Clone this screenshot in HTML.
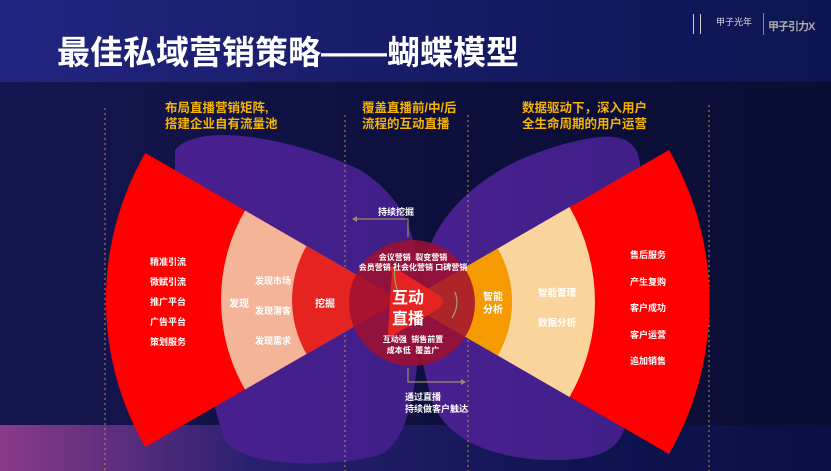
<!DOCTYPE html>
<html><head><meta charset="utf-8"><style>
html,body{margin:0;padding:0}
body{width:831px;height:471px;overflow:hidden;position:relative;background:linear-gradient(90deg,#151650,#0c0f3a 60%,#0a0d33);font-family:"Liberation Sans","Noto Sans CJK SC",sans-serif}
.t{position:absolute;color:#fff;white-space:nowrap;font-weight:bold}
.o{position:absolute;color:#f7b500;font-weight:bold;font-size:12.5px;line-height:16px;white-space:nowrap}
</style></head><body>
<div style="position:absolute;left:0;top:0;width:831px;height:82px;background:linear-gradient(90deg,#222580,#141a62 60%,#0d1550)"></div>
<div style="position:absolute;left:0;top:425px;width:831px;height:46px;background:linear-gradient(90deg,#8a3a8a,#2a2070 30%,#0e1450 70%,#0a1045)"></div>
<svg width="831" height="471" style="position:absolute;left:0;top:0">
<defs><linearGradient id="pb" x1="0" x2="1"><stop offset="0" stop-color="#4a2090"/><stop offset="1" stop-color="#3f1f88"/></linearGradient></defs>
<path d="M175,150 C200,120 300,140 360,170 C400,195 420,230 420,300 C420,380 410,440 380,455 C320,470 240,465 225,440 C210,400 190,300 175,210 Z" fill="url(#pb)"/>
<path d="M600,137 C630,134 642,148 640,175 L625,425 C620,450 600,458 565,460 C495,462 445,440 432,400 C420,360 415,320 420,280 C430,220 470,185 515,162 C550,146 580,139 600,137 Z" fill="url(#pb)"/>
<g stroke="#b8904a" stroke-width="1" stroke-dasharray="2,3">
<line x1="105" y1="108" x2="105" y2="471"/><line x1="345" y1="115" x2="345" y2="471"/><line x1="468" y1="115" x2="468" y2="471"/><line x1="709" y1="105" x2="709" y2="471"/></g>
<path d="M400,300 L145.3,153 A294,294 0 0 0 145.3,447 Z" fill="#ff0000"/>
<path d="M400,300 L245,210.5 A179,179 0 0 0 245,389.5 Z" fill="#f4b497"/>
<path d="M400,300 L306.5,246 A108,108 0 0 0 306.5,354 Z" fill="#e52421"/>
<path d="M405,302 L669,150 A305,305 0 0 1 669,454 Z" fill="#ff0000"/>
<path d="M405,302 L569.5,207 A190,190 0 0 1 569.5,397 Z" fill="#f9d49c"/>
<path d="M405,302 L497.7,248.5 A107,107 0 0 1 497.7,355.5 Z" fill="#f59a00"/>
<circle cx="412" cy="303" r="63" fill="#a0102f" opacity="0.85"/>
<path d="M392,272 Q388,268 392,266 L440,296 Q446,302 440,308 L392,336 Q388,338 388,332 Z" fill="#e52421"/>
<path d="M398,292 Q392,275 396,262" stroke="#9aa36a" stroke-width="1.2" fill="none"/>
<path d="M455,292 Q460,305 452,318" stroke="#9aa36a" stroke-width="1.2" fill="none"/>
<g stroke="#a08a6a" stroke-width="1.2" fill="none"><path d="M408,237 V219 H353"/><path d="M408,368 V382 H465"/></g>
<path d="M352,219 l5,-3 v6z" fill="#a08a6a"/><path d="M466,382 l-5,-3 v6z" fill="#a08a6a"/>
</svg>
<div class="t" style="left:57px;top:33px;font-size:33px;line-height:40px">最佳私域营销策略——蝴蝶模型</div>
<div class="o" style="left:165px;top:100px">布局直播营销矩阵,<br>搭建企业自有流量池</div>
<div class="o" style="left:362px;top:100px">覆盖直播前/中/后<br>流程的互动直播</div>
<div class="o" style="left:522px;top:100px">数据驱动下，深入用户<br>全生命周期的用户运营</div>
<div class="t" style="left:150px;top:252px;font-size:9px;line-height:20px">精准引流<br>微赋引流<br>推广平台<br>广告平台<br>策划服务</div>
<div class="t" style="left:229px;top:295px;font-size:10px">发现</div>
<div class="t" style="left:255px;top:266px;font-size:9px;line-height:30px">发现市场<br>发现潜客<br>发现需求</div>
<div class="t" style="left:315px;top:295px;font-size:10px">挖掘</div>
<div class="t" style="left:483px;top:291px;font-size:10px;line-height:13px">智能<br>分析</div>
<div class="t" style="left:538px;top:279px;font-size:9.5px;line-height:30px">智能管理<br>数据分析</div>
<div class="t" style="left:630px;top:242px;font-size:9px;line-height:26.5px">售后服务<br>产生复购<br>客户成功<br>客户运营<br>追加销售</div>
<div class="t" style="left:378px;top:205px;font-size:9px">持续挖掘</div>
<div class="t" style="left:357px;top:253px;font-size:8px;line-height:10px;text-align:center;width:112px">会议营销 &nbsp;裂变营销<br>会员营销 社会化营销 口碑营销</div>
<div class="t" style="left:392px;top:288px;font-size:16px;line-height:21px">互动<br>直播</div>
<div class="t" style="left:375px;top:334px;font-size:8px;line-height:11px;text-align:center;width:76px">互动强 &nbsp;销售前置<br>成本低 &nbsp;覆盖广</div>
<div class="t" style="left:405px;top:391px;font-size:9px;line-height:12px">通过直播<br>持续做客户触达</div>
<div style="position:absolute;left:693px;top:14px;width:6px;height:20px;border-left:1px solid #ccc;border-right:1px solid #ccc"></div>
<div class="t" style="left:716px;top:15px;font-size:9px;font-weight:normal;color:#ddd">甲子光年</div>
<div style="position:absolute;left:763px;top:13px;width:1px;height:22px;background:#888"></div>
<div class="t" style="left:768px;top:18px;font-size:11px;color:#aaa;letter-spacing:-1px">甲子引力X</div>
</body></html>
